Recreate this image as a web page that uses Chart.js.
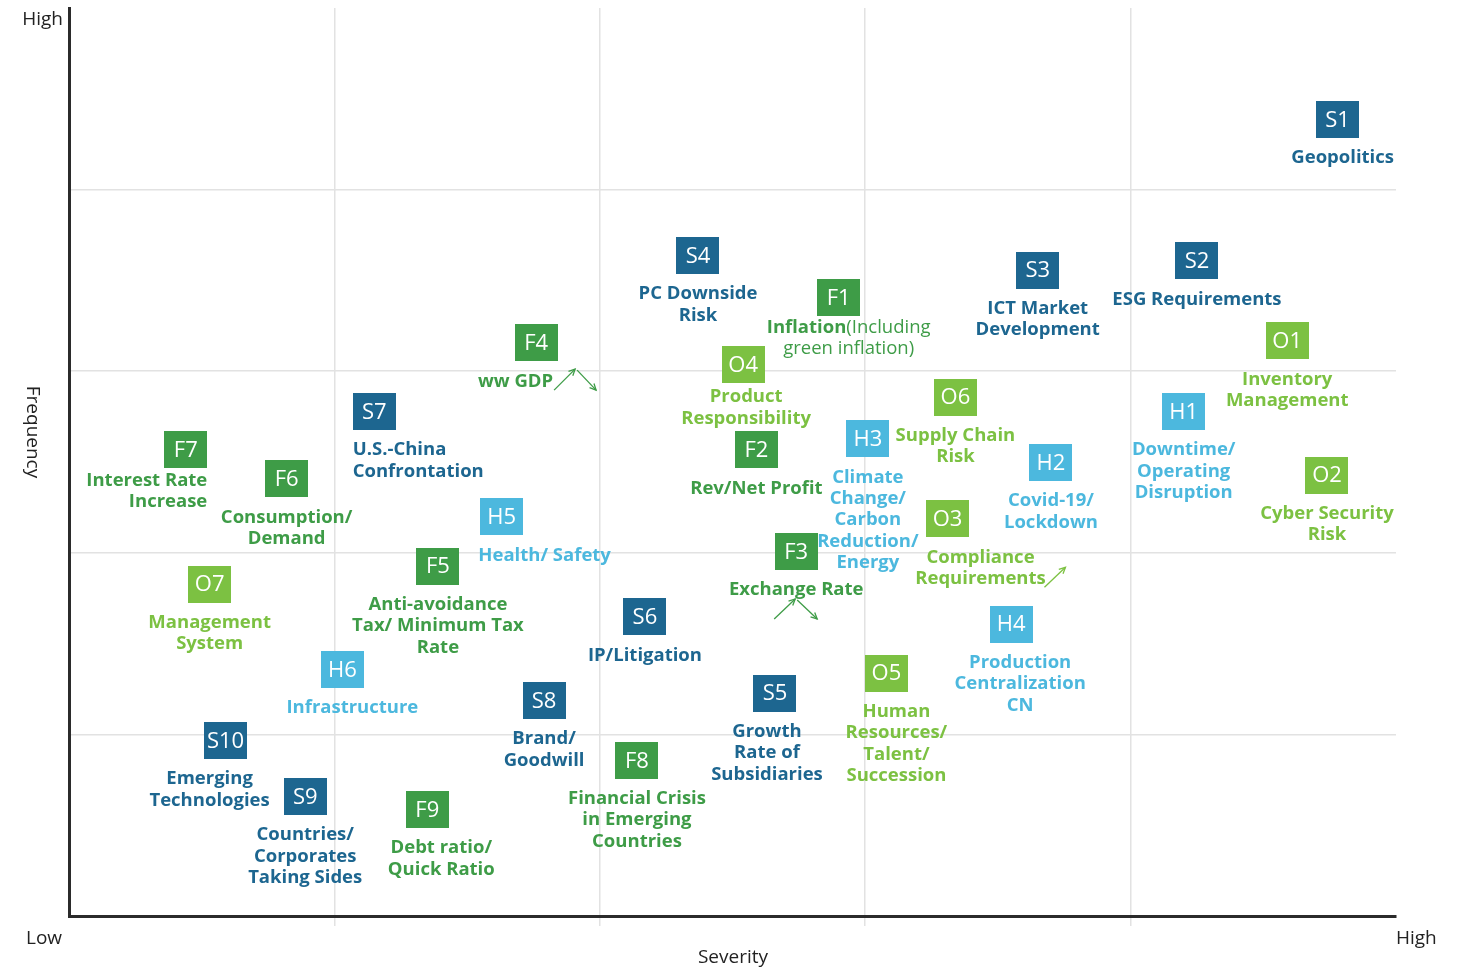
<!DOCTYPE html>
<html><head><meta charset="utf-8">
<script src="https://cdn.jsdelivr.net/npm/chart.js@4.4.1/dist/chart.umd.min.js"></script>
<style>html,body{margin:0;padding:0;background:#fff}#wrap{width:1464px;height:969px;position:relative}canvas{display:block}</style>
</head><body><div id="wrap"><canvas id="c" width="1464" height="969"></canvas></div>
<script>
// ---- Data ----
const codes = ['S1','S2','S3','S4','S5','S6','S7','S8','S9','S10',
               'F1','F2','F3','F4','F5','F6','F7','F8','F9',
               'O1','O2','O3','O4','O5','O6','O7',
               'H1','H2','H3','H4','H5','H6'];
const severity = [4.78,4.25,3.65,2.37,2.66,2.17,1.15,1.79,0.89,0.59,
                  2.90,2.59,2.74,1.76,1.39,0.82,0.44,2.14,1.35,
                  4.59,4.74,3.31,2.54,3.08,3.34,0.53,
                  4.20,3.70,3.01,3.55,1.63,1.03];
const frequency = [4.39,3.61,3.56,3.64,1.23,1.65,2.78,1.19,0.66,0.97,
                   3.41,2.57,2.01,3.16,1.93,2.41,2.57,0.86,0.59,
                   3.17,2.43,2.19,3.04,1.34,2.86,1.83,
                   2.78,2.50,2.63,1.61,2.20,1.36];
const riskLabels = [
  ['Geopolitics'], ['ESG Requirements'], ['ICT Market','Development'], ['PC Downside','Risk'],
  ['Growth','Rate of','Subsidiaries'], ['IP/Litigation'], ['U.S.-China','Confrontation'],
  ['Brand/','Goodwill'], ['Countries/','Corporates','Taking Sides'], ['Emerging','Technologies'],
  ['Inflation(Including','green inflation)'], ['Rev/Net Profit'], ['Exchange Rate'], ['ww GDP'],
  ['Anti-avoidance','Tax/ Minimum Tax','Rate'], ['Consumption/','Demand'], ['Interest Rate','Increase'],
  ['Financial Crisis','in Emerging','Countries'], ['Debt ratio/','Quick Ratio'],
  ['Inventory','Management'], ['Cyber Security','Risk'], ['Compliance','Requirements'],
  ['Product','Responsibility'], ['Human','Resources/','Talent/','Succession'], ['Supply Chain','Risk'],
  ['Management','System'],
  ['Downtime/','Operating','Disruption'], ['Covid-19/','Lockdown'],
  ['Climate','Change/','Carbon','Reduction/','Energy'], ['Production','Centralization','CN'],
  ['Health/ Safety'], ['Infrastructure']
];
const groups = ['S','F','O','H'];
const axisTexts = {yHigh:'High', xLow:'Low', xHigh:'High', xTitle:'Severity', yTitle:'Frequency'};

// ---- Styles / layout ----
const groupColors = {S:'#1d6690', F:'#3e9c47', O:'#7cc142', H:'#4cb8de'};
const labelLayout = {
  S1:{dx:5}, S7:{align:'left',dx:-21.5}, F7:{align:'right',dx:21.5,dy:31},
  F1:{dx:10,dy:31,boldChars:9}, O4:{dx:3,dy:33}, H5:{dx:43}, H6:{dx:10},
  F4:{align:'right',dx:17,dy:40}, O3:{dx:33}, H4:{dx:9}, O5:{dx:10},
  S5:{dx:-8}, S10:{dx:-16}, F9:{dx:14}
};
const arrowLayout = {
  F4:[[18,48,39,27],[41,28,60,48]],
  F3:[[-22,68,-1,48],[1,49,21,68]],
  O3:[[97,69,118,49]]
};
const FONT = '"Open Sans", "DejaVu Sans", sans-serif';
const LFS = '18.5px ';

const datasets = groups.map(g => {
  const pts = [];
  codes.forEach((c,i) => { if (c[0] === g) pts.push({x: severity[i], y: frequency[i], code: c, label: riskLabels[i]}); });
  return {label: g, data: pts, pointRadius: 0, pointHoverRadius: 0, backgroundColor: groupColors[g]};
});

function drawArrow(ctx, x1, y1, x2, y2) {
  ctx.beginPath(); ctx.moveTo(x1,y1); ctx.lineTo(x2,y2); ctx.stroke();
  const a = Math.atan2(y2-y1, x2-x1), h = 7;
  ctx.beginPath();
  ctx.moveTo(x2 - h*Math.cos(a-0.45), y2 - h*Math.sin(a-0.45));
  ctx.lineTo(x2, y2);
  ctx.lineTo(x2 - h*Math.cos(a+0.45), y2 - h*Math.sin(a+0.45));
  ctx.stroke();
}

const riskPlugin = {
  id: 'riskBoxes',
  afterDatasetsDraw(chart) {
    const ctx = chart.ctx;
    ctx.save();
    chart.data.datasets.forEach((ds, di) => {
      const meta = chart.getDatasetMeta(di);
      const color = groupColors[ds.label];
      meta.data.forEach((el, i) => {
        const p = ds.data[i];
        const cx = el.x, cy = el.y;
        ctx.fillStyle = color;
        ctx.fillRect(Math.round(cx - 21.5), Math.round(cy - 18), 43, 37);
        ctx.fillStyle = '#ffffff';
        ctx.font = '22px ' + FONT;
        ctx.textAlign = 'center'; ctx.textBaseline = 'middle';
        ctx.fillText(p.code, cx, cy + 1.5);
        const L = labelLayout[p.code] || {};
        const align = L.align || 'center';
        const ax = cx + (L.dx || 0);
        const y0 = cy + (L.dy === undefined ? 39 : L.dy);
        ctx.fillStyle = color;
        ctx.textAlign = align;
        p.label.forEach((line, li) => {
          const ly = y0 + li * 21.4;
          if (L.boldChars !== undefined) {
            const boldPart = li === 0 ? line.slice(0, L.boldChars) : '';
            const regPart = li === 0 ? line.slice(L.boldChars) : line;
            ctx.font = 'bold ' + LFS + FONT; const wb = ctx.measureText(boldPart).width;
            ctx.font = LFS + FONT; const wr = ctx.measureText(regPart).width;
            let sx = ax - (wb + wr) / 2;
            ctx.textAlign = 'left';
            ctx.font = 'bold ' + LFS + FONT; ctx.fillText(boldPart, sx, ly);
            ctx.font = LFS + FONT; ctx.fillText(regPart, sx + wb, ly);
          } else {
            ctx.font = 'bold ' + LFS + FONT;
            ctx.fillText(line, ax, ly);
          }
        });
        const arr = arrowLayout[p.code];
        if (arr) {
          ctx.strokeStyle = color; ctx.lineWidth = 1.3;
          arr.forEach(a => drawArrow(ctx, cx + a[0], cy + a[1], cx + a[2], cy + a[3]));
        }
      });
    });
    // axis texts
    const ca = chart.chartArea;
    ctx.fillStyle = '#222';
    ctx.font = '19px ' + FONT;
    ctx.textBaseline = 'middle';
    ctx.textAlign = 'right'; ctx.fillText(axisTexts.yHigh, ca.left - 6, ca.top + 12);
    ctx.textAlign = 'center'; ctx.fillText(axisTexts.xLow, 44, ca.bottom + 23);
    ctx.textAlign = 'left'; ctx.fillText(axisTexts.xHigh, ca.right, ca.bottom + 23);
    ctx.textAlign = 'center'; ctx.fillText(axisTexts.xTitle, 733, ca.bottom + 42);
    ctx.save();
    ctx.translate(32, 432); ctx.rotate(Math.PI / 2);
    ctx.fillText(axisTexts.yTitle, 0, 0);
    ctx.restore();
    ctx.restore();
  }
};

const gridColor = c => (c.tick && (c.tick.value === 0 || c.tick.value === 5)) ? 'rgba(0,0,0,0)' : '#e2e2e2';

new Chart(document.getElementById('c'), {
  type: 'scatter',
  data: {datasets},
  options: {
    responsive: false, animation: false, devicePixelRatio: 1,
    layout: {padding: {left: 69, right: 68, top: 8, bottom: 43}},
    plugins: {legend: {display: false}, tooltip: {enabled: false}},
    events: [],
    scales: {
      x: {type: 'linear', min: 0, max: 5,
          ticks: {display: false, stepSize: 1},
          grid: {color: gridColor, lineWidth: 1.5, drawTicks: true, tickLength: 10, tickColor: gridColor},
          border: {color: '#2b2b2b', width: 3},
          afterFit: s => { s.height = 10; }},
      y: {type: 'linear', min: 0, max: 5,
          ticks: {display: false, stepSize: 1},
          grid: {color: gridColor, lineWidth: 1.5, drawTicks: false},
          border: {color: '#2b2b2b', width: 3},
          afterFit: s => { s.width = 0; }}
    }
  },
  plugins: [riskPlugin]
});
</script></body></html>
